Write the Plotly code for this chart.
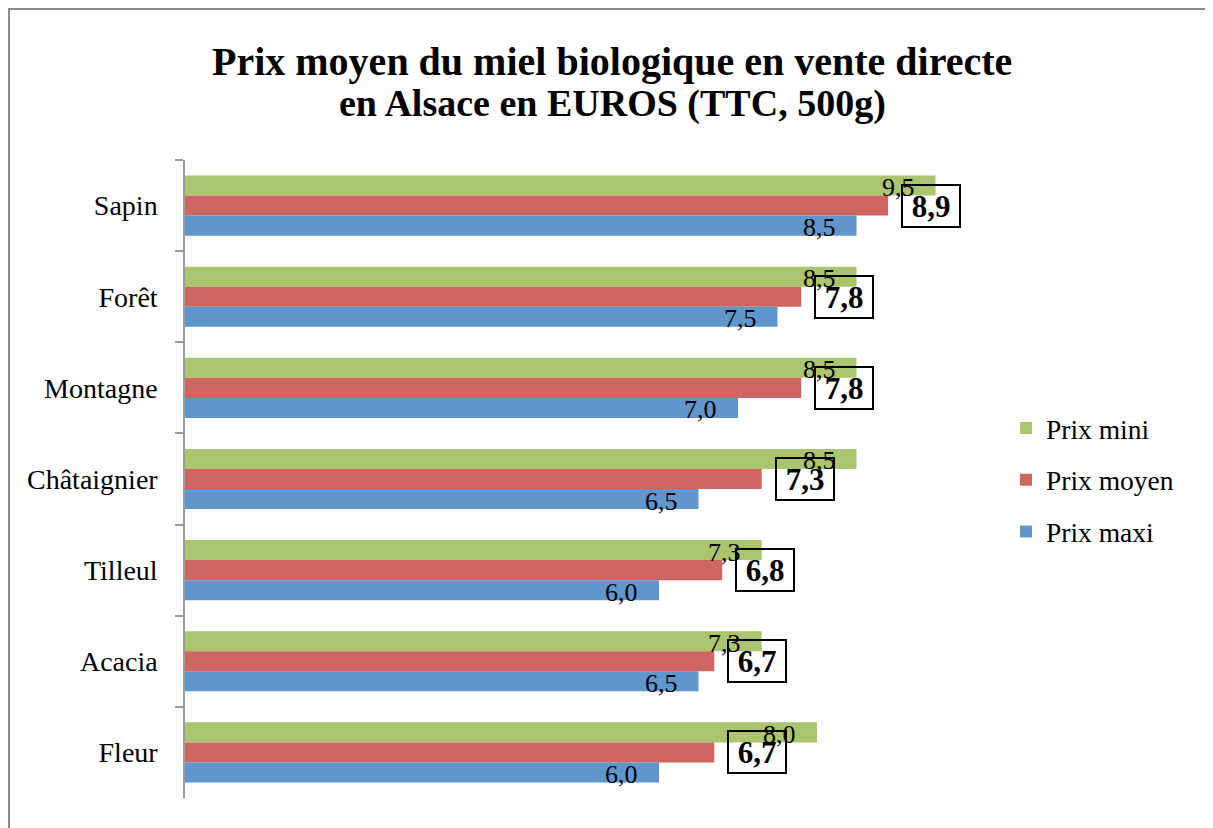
import plotly.graph_objects as go

categories = ["Sapin", "Forêt", "Montagne", "Châtaignier", "Tilleul", "Acacia", "Fleur"]
prix_mini = [9.5, 8.5, 8.5, 8.5, 7.3, 7.3, 8.0]
prix_moyen = [8.9, 7.8, 7.8, 7.3, 6.8, 6.7, 6.7]
prix_maxi = [8.5, 7.5, 7.0, 6.5, 6.0, 6.5, 6.0]
series_names = ["Prix mini", "Prix moyen", "Prix maxi"]
colors = ["#ABC56E", "#CD6661", "#6096CA"]
title_lines = ["Prix moyen du miel biologique en vente directe", "en Alsace en EUROS (TTC, 500g)"]

FONT = "Liberation Serif"
BARGAP = 0.34
W, H = 1205, 820
ML, MR, MT, MB = 177, 238, 152, 30
PW, PH = W - ML - MR, H - MT - MB


def fmt(v):
    return f"{v:.1f}".replace(".", ",")


def px_to_paper_x(px):
    return (px - ML) / PW


def px_to_paper_y(py):
    return 1 + (MT - py) / PH


fig = go.Figure()
for i, (name, vals) in enumerate(zip(series_names, [prix_mini, prix_moyen, prix_maxi])):
    fig.add_trace(go.Bar(
        x=vals, y=categories, orientation="h", name=name,
        marker=dict(color=colors[i], line=dict(width=0)),
        legendgroup=name, hoverinfo="x+y",
    ))

bw = (1 - BARGAP) / 3
annotations = []
for idx in range(len(categories)):
    for vals, off in ((prix_mini, -bw), (prix_maxi, bw)):
        annotations.append(dict(
            x=vals[idx], y=idx + off, xref="x", yref="y", text=fmt(vals[idx]),
            showarrow=False, xanchor="right", yanchor="middle", xshift=-19, yshift=-2,
            font=dict(family=FONT, size=26, color="black"),
        ))
    annotations.append(dict(
        x=prix_moyen[idx], y=idx, xref="x", yref="y", text="<b>" + fmt(prix_moyen[idx]) + "</b>",
        showarrow=False, xanchor="left", yanchor="middle", xshift=13,
        width=56, height=40, align="center", valign="middle",
        bordercolor="black", borderwidth=2, borderpad=0, bgcolor="rgba(255,255,255,0)",
        font=dict(family=FONT, size=31, color="black"),
    ))

# two-line chart title
for line, cy, fs in zip(title_lines, (53, 95), (40, 38)):
    annotations.append(dict(
        x=px_to_paper_x(604), y=px_to_paper_y(cy), xref="paper", yref="paper",
        text="<b>" + line + "</b>", showarrow=False, xanchor="center", yanchor="middle",
        font=dict(family=FONT, size=fs, color="black"),
    ))

fig.update_layout(
    width=W, height=H,
    margin=dict(l=ML, r=MR, t=MT, b=MB),
    paper_bgcolor="white", plot_bgcolor="white",
    barmode="group", bargap=BARGAP, bargroupgap=0,
    font=dict(family=FONT, color="black"),
    xaxis=dict(range=[0, 10], visible=False, showgrid=False, zeroline=False),
    yaxis=dict(
        type="category", autorange="reversed",
        showline=True, linecolor="#9c9c9c", linewidth=1.5,
        ticks="outside", tickson="boundaries", ticklen=8, tickcolor="#9c9c9c", tickwidth=1.5,
        ticklabelstandoff=20,
        tickfont=dict(family=FONT, size=28, color="black"),
        showgrid=False, zeroline=False,
    ),
    legend=dict(
        x=px_to_paper_x(998), xanchor="left", y=px_to_paper_y(472), yanchor="middle",
        traceorder="grouped", tracegroupgap=13,
        font=dict(family=FONT, size=27.5, color="black"),
        bgcolor="rgba(0,0,0,0)",
    ),
    annotations=annotations,
    shapes=[dict(
        type="rect", xref="paper", yref="paper",
        x0=px_to_paper_x(1), x1=px_to_paper_x(W + 20),
        y0=px_to_paper_y(H + 20), y1=px_to_paper_y(1),
        line=dict(color="#8a8a8a", width=2), fillcolor="rgba(0,0,0,0)", layer="below",
    )],
)

fig.write_html("out.html")
